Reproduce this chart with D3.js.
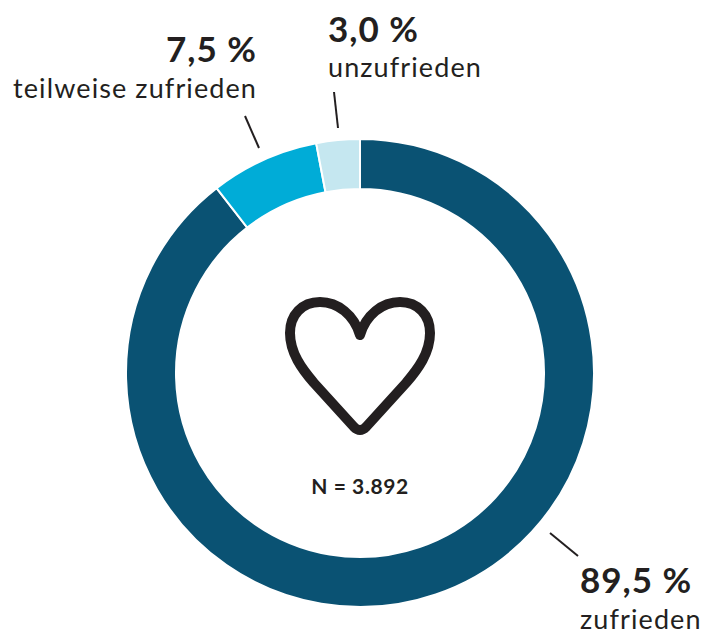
<!DOCTYPE html>
<html>
<head>
<meta charset="utf-8">
<script src="https://cdnjs.cloudflare.com/ajax/libs/d3/7.8.5/d3.min.js"></script>
<style>
  html, body { margin: 0; padding: 0; background: #fff; }
  svg { display: block; }
  text { font-family: "Lato", sans-serif; fill: #231f20; }
  .pct { font-size: 35px; font-weight: 700; letter-spacing: 1px; }
  .cat { font-size: 27px; letter-spacing: 1.1px; }
</style>
</head>
<body>
<div id="chart"></div>
<script>
var categories = ["zufrieden", "teilweise zufrieden", "unzufrieden"];
var values = [89.5, 7.5, 3.0];
var valueLabels = ["89,5 %", "7,5 %", "3,0 %"];
var sampleLabel = "N = 3.892";
var colors = ["#0a5273", "#00acd7", "#c5e7f0"];

var width = 703, height = 635;
var cx = 360, cy = 373;
var outerR = 234, innerR = 184;

var svg = d3.select("#chart").append("svg")
    .attr("width", width)
    .attr("height", height);

var g = svg.append("g")
    .attr("transform", "translate(" + cx + "," + cy + ")");

var pie = d3.pie().sort(null)(values);
var arc = d3.arc().innerRadius(innerR).outerRadius(outerR);

g.selectAll("path.slice")
    .data(pie)
    .enter().append("path")
    .attr("class", "slice")
    .attr("d", arc)
    .attr("fill", function (d, i) { return colors[i]; })
    .attr("stroke", "#fff")
    .attr("stroke-width", 2);

// labels, placed by hand like in the original
var labelPos = [
    {anchor: "start", x: 580, yPct: 593, yCat: 629, line: [550, 533, 578, 556]},
    {anchor: "end", x: 257, yPct: 62, yCat: 98, line: [245, 116, 259, 148]},
    {anchor: "start", x: 328, yPct: 42, yCat: 77, line: [334, 92, 338, 128]}
];

labelPos.forEach(function (p, i) {
    svg.append("text").attr("class", "pct")
        .attr("x", p.x).attr("y", p.yPct)
        .attr("text-anchor", p.anchor)
        .text(valueLabels[i]);
    svg.append("text").attr("class", "cat")
        .attr("x", p.x).attr("y", p.yCat)
        .attr("text-anchor", p.anchor)
        .text(categories[i]);
    svg.append("line")
        .attr("x1", p.line[0]).attr("y1", p.line[1])
        .attr("x2", p.line[2]).attr("y2", p.line[3])
        .attr("stroke", "#231f20")
        .attr("stroke-width", 2);
});

// heart icon
var heart = d3.path();
heart.moveTo(0, -38);
heart.bezierCurveTo(-6, -58, -22, -71, -40, -71);
heart.bezierCurveTo(-58, -71, -70, -58, -70, -40);
heart.bezierCurveTo(-70, -20, -58, -4, -46, 10);
heart.lineTo(-6, 54);
heart.quadraticCurveTo(0, 60, 6, 54);
heart.lineTo(46, 10);
heart.bezierCurveTo(58, -4, 70, -20, 70, -40);
heart.bezierCurveTo(70, -58, 58, -71, 40, -71);
heart.bezierCurveTo(22, -71, 6, -58, 0, -38);
heart.closePath();

g.append("path")
    .attr("d", heart.toString())
    .attr("fill", "none")
    .attr("stroke", "#231f20")
    .attr("stroke-width", 10)
    .attr("stroke-linejoin", "round");

svg.append("text")
    .attr("x", cx)
    .attr("y", 494)
    .attr("text-anchor", "middle")
    .style("font-size", "21px")
    .style("font-weight", 700)
    .style("letter-spacing", "0.6px")
    .text(sampleLabel);
</script>
</body>
</html>
